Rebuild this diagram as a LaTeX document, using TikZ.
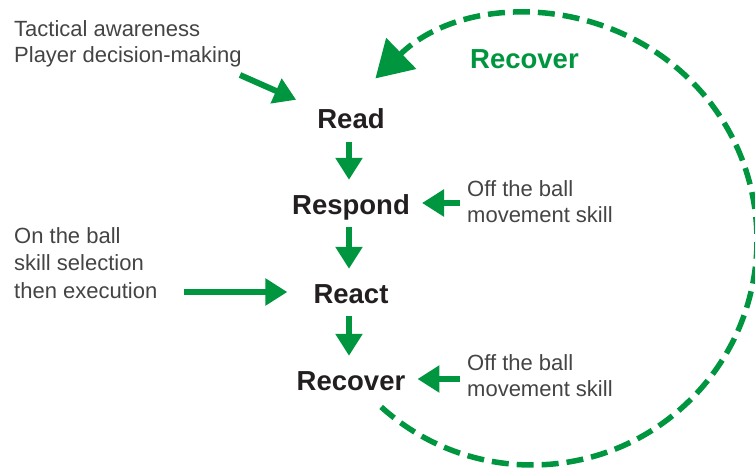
\documentclass[tikz,border=0pt]{standalone}
\usepackage{fontspec}
\setmainfont{Liberation Sans}
\usetikzlibrary{arrows.meta,calc}
\definecolor{grn}{HTML}{009640}
\definecolor{ink}{HTML}{231F20}
\definecolor{txt}{HTML}{444444}
\begin{document}
\begin{tikzpicture}[x=1pt,y=-1pt,
  stage/.style={font=\fontsize{27.5}{30}\selectfont\bfseries, text=ink, inner sep=0pt,
    text height=22pt, text depth=0pt, anchor=base},
  note/.style={font=\fontsize{22}{26}\selectfont, text=txt, inner sep=0pt, align=left, anchor=north west},
  arr/.style={grn, line width=6pt, -{Triangle[width=26pt,length=22pt]}},
  vstep/.style={arr, shorten <=13pt, shorten >=12pt},
  dasharc/.style={grn, line width=5.5pt, dash pattern=on 17pt off 8pt, -{Triangle[width=42pt,length=36pt]}}]
\useasboundingbox (0,0) rectangle (755,468);

% stages
\node[stage] (read) at (351,129) {Read};
\node[stage] (respond) at (351,214) {Respond};
\node[stage] (react) at (351,303) {React};
\node[stage] (recover) at (351,390) {Recover};
\node[stage, text=grn, anchor=base west] (reclabel) at (470,69) {Recover};

% notes
\node[note] (tact) at (14,20) {Tactical awareness\\Player decision-making};
\node[note, font=\fontsize{22}{27.5}\selectfont] (onball) at (14,227) {On the ball\\skill selection\\then execution};
\node[note] (offa) at (467,180) {Off the ball\\movement skill};
\node[note] (offb) at (467,354) {Off the ball\\movement skill};

% vertical flow
\draw[vstep] ([xshift=-2pt]read.south) -- ([xshift=-2pt]respond.north);
\draw[vstep] ([xshift=-2pt]respond.south) -- ([xshift=-2pt]react.north);
\draw[vstep] ([xshift=-2pt]react.south) -- ([xshift=-2pt]recover.north);

% side inputs
\coordinate (tactend) at (240,75);
\draw[arr] (tactend) -- ($(read.north west)+(-21,-7)$);
\draw[arr, shorten <=26pt, shorten >=26pt] (onball.east |- react.west) -- (react.west);
\draw[arr, shorten <=7pt, shorten >=12pt] (offa.west |- respond.east) -- (respond.east);
\draw[arr, shorten <=7pt, shorten >=12pt] (offb.west |- recover.east) -- (recover.east);

% recovery loop
\coordinate (c) at (532,240);
\draw[dasharc] ($(c)+(132.1:225)$) arc[start angle=132.1, end angle=-134.1, radius=225];
\end{tikzpicture}
\end{document}
